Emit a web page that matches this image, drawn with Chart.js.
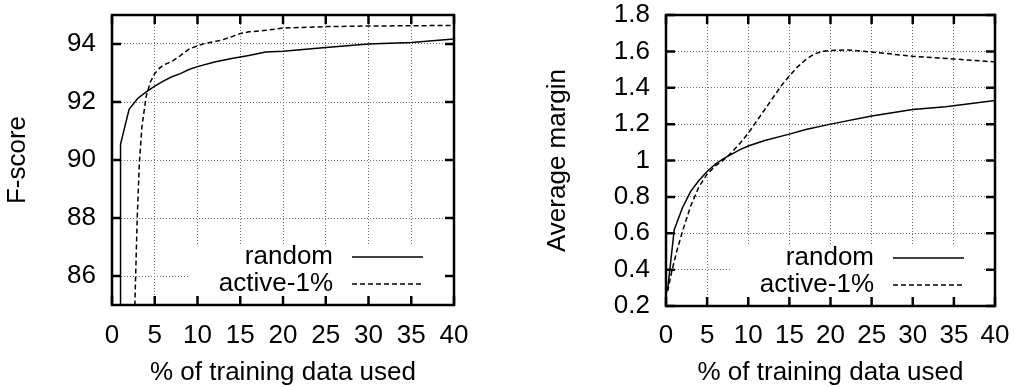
<!DOCTYPE html>
<html>
<head>
<meta charset="utf-8">
<script src="https://cdn.jsdelivr.net/npm/chart.js@4.4.0/dist/chart.umd.min.js"></script>
<style>
    html, body { margin: 0; padding: 0; background: #fff; }
    .box { position: absolute; top: 0; width: 507px; height: 387px; }
</style>
</head>
<body>
<div class="box" style="left:0"><canvas id="fscore-chart"></canvas></div>
<div class="box" style="left:507px"><canvas id="margin-chart"></canvas></div>
<script>
// % of training data used
var pctTicks = [0, 5, 10, 15, 20, 25, 30, 35, 40];

// left: F-score
var fscoreTicks = [86, 88, 90, 92, 94];
var randomPct = [0.97, 1, 2, 3, 4, 5, 6, 7, 8, 9, 10, 12, 14, 16, 18, 20, 25, 30, 35, 40];
var randomF = [80, 90.55, 91.75, 92.12, 92.35, 92.55, 92.72, 92.87, 92.98, 93.12, 93.22, 93.38, 93.5, 93.6, 93.72, 93.75, 93.88, 94.0, 94.05, 94.17];
var activePct = [2.5, 2.7, 2.95, 3.2, 3.5, 4, 4.5, 5, 5.5, 6, 7, 8, 9, 10, 11, 12, 13, 14, 15, 16, 18, 20, 25, 30, 35, 40];
var activeF = [82.5, 85.3, 88.0, 89.9, 91.15, 92.2, 92.7, 92.98, 93.15, 93.27, 93.4, 93.6, 93.82, 93.94, 94.03, 94.08, 94.15, 94.25, 94.36, 94.42, 94.47, 94.55, 94.6, 94.62, 94.63, 94.64];

// right: average margin
var marginTicks = [0.2, 0.4, 0.6, 0.8, 1, 1.2, 1.4, 1.6, 1.8];
var randomMPct = [0.2, 1, 2, 3, 4, 5, 6, 7, 8, 9, 10, 11, 12, 15, 17, 20, 25, 30, 34, 40];
var randomM = [0.29, 0.62, 0.74, 0.83, 0.89, 0.94, 0.98, 1.01, 1.035, 1.06, 1.08, 1.095, 1.11, 1.145, 1.17, 1.2, 1.245, 1.28, 1.296, 1.33];
var activeMPct = [0.2, 0.7, 1.3, 2, 3, 4, 5, 6, 7, 8, 9, 10, 11, 12, 13, 14, 15, 16, 17, 18, 19, 20, 22, 25, 30, 35, 40];
var activeM = [0.28, 0.39, 0.5, 0.61, 0.75, 0.855, 0.925, 0.97, 1.003, 1.045, 1.095, 1.15, 1.215, 1.28, 1.345, 1.41, 1.465, 1.515, 1.555, 1.585, 1.6, 1.605, 1.608, 1.597, 1.573, 1.558, 1.542];

var FONT = '"Liberation Sans", Arial, Helvetica, sans-serif';
Chart.defaults.font.family = FONT;
Chart.defaults.font.size = 26;
Chart.defaults.color = '#000';

function points(xs, ys) {
    return xs.map(function (x, i) { return { x: x, y: ys[i] }; });
}

// gnuplot look: opaque key box, heavy frame, mirrored inner ticks
var gnuplotFrame = {
    id: 'gnuplotFrame',
    beforeDatasetsDraw: function (chart) {
        var a = chart.chartArea, ctx = chart.ctx;
        ctx.save();
        ctx.fillStyle = '#fff';
        ctx.fillRect(a.right - 265, a.bottom - 60, 254, 60);
        ctx.restore();
    },
    afterDraw: function (chart) {
        var a = chart.chartArea, ctx = chart.ctx;
        var xs = chart.scales.x, ys = chart.scales.y;
        ctx.save();
        ctx.strokeStyle = '#000';
        ctx.lineWidth = 2.5;
        ctx.beginPath();
        xs.ticks.forEach(function (t) {
            var px = xs.getPixelForValue(t.value);
            ctx.moveTo(px, a.bottom); ctx.lineTo(px, a.bottom - 9);
            ctx.moveTo(px, a.top); ctx.lineTo(px, a.top + 9);
        });
        ys.ticks.forEach(function (t) {
            var py = ys.getPixelForValue(t.value);
            ctx.moveTo(a.left, py); ctx.lineTo(a.left + 9, py);
            ctx.moveTo(a.right, py); ctx.lineTo(a.right - 9, py);
        });
        ctx.stroke();
        ctx.strokeRect(a.left, a.top, a.right - a.left, a.bottom - a.top);

        ctx.font = '26px ' + FONT;
        ctx.textAlign = 'right';
        ctx.textBaseline = 'middle';
        ctx.fillStyle = '#000';
        chart.data.datasets.forEach(function (ds, i) {
            var ly = a.bottom - 48 + i * 27;
            ctx.fillText(ds.label, a.right - 121, ly);
            ctx.lineWidth = ds.borderWidth;
            ctx.setLineDash(ds.borderDash || []);
            ctx.beginPath();
            ctx.moveTo(a.right - 102, ly);
            ctx.lineTo(a.right - 31, ly);
            ctx.stroke();
            ctx.setLineDash([]);
        });
        ctx.restore();
    }
};

function makeChart(id, yTitle, yTicks, yMin, yMax, randomData, activeData, pad, yWidth, xHeight, xPad) {
    return new Chart(document.getElementById(id), {
        type: 'line',
        data: {
            datasets: [{
                label: 'random',
                data: randomData,
                borderColor: '#000',
                borderWidth: 1.5,
                pointRadius: 0,
                fill: false,
                tension: 0
            }, {
                label: 'active-1%',
                data: activeData,
                borderColor: '#000',
                borderWidth: 1.5,
                borderDash: [5, 3],
                pointRadius: 0,
                fill: false,
                tension: 0
            }]
        },
        options: {
            responsive: true,
            maintainAspectRatio: false,
            animation: false,
            layout: { padding: pad },
            plugins: { legend: { display: false }, tooltip: { enabled: false } },
            scales: {
                x: {
                    type: 'linear',
                    min: 0,
                    max: 40,
                    afterBuildTicks: function (s) { s.ticks = pctTicks.map(function (v) { return { value: v }; }); },
                    afterFit: function (s) { s.height = xHeight; s.paddingLeft = 0; s.paddingRight = 0; },
                    ticks: { padding: xPad, autoSkip: false, maxRotation: 0, callback: function (v) { return String(v); } },
                    grid: { color: '#707070', lineWidth: 1, drawTicks: false },
                    border: { display: false, dash: [1, 2] },
                    title: {
                        display: true,
                        text: '% of training data used',
                        font: { size: 26, lineHeight: 1.1 },
                        padding: { top: 0, bottom: 0 }
                    }
                },
                y: {
                    min: yMin,
                    max: yMax,
                    afterBuildTicks: function (s) { s.ticks = yTicks.map(function (v) { return { value: v }; }); },
                    afterFit: function (s) { s.width = yWidth; s.paddingTop = 0; s.paddingBottom = 0; },
                    ticks: { padding: 16, callback: function (v) { return String(v); } },
                    grid: { color: '#707070', lineWidth: 1, drawTicks: false },
                    border: { display: false, dash: [1, 2] },
                    title: {
                        display: true,
                        text: yTitle,
                        font: { size: 26, lineHeight: 1.1 },
                        padding: { top: 4, bottom: 0 }
                    }
                }
            }
        },
        plugins: [gnuplotFrame]
    });
}

makeChart('fscore-chart', 'F-score', fscoreTicks, 85, 95,
    points(randomPct, randomF), points(activePct, activeF),
    { left: 0, right: 53, top: 15, bottom: 0 }, 112, 82, 15);

makeChart('margin-chart', 'Average margin', marginTicks, 0.2, 1.8,
    points(randomMPct, randomM), points(activeMPct, activeM),
    { left: 33, right: 19, top: 15, bottom: 0 }, 126, 81, 14);
</script>
</body>
</html>
